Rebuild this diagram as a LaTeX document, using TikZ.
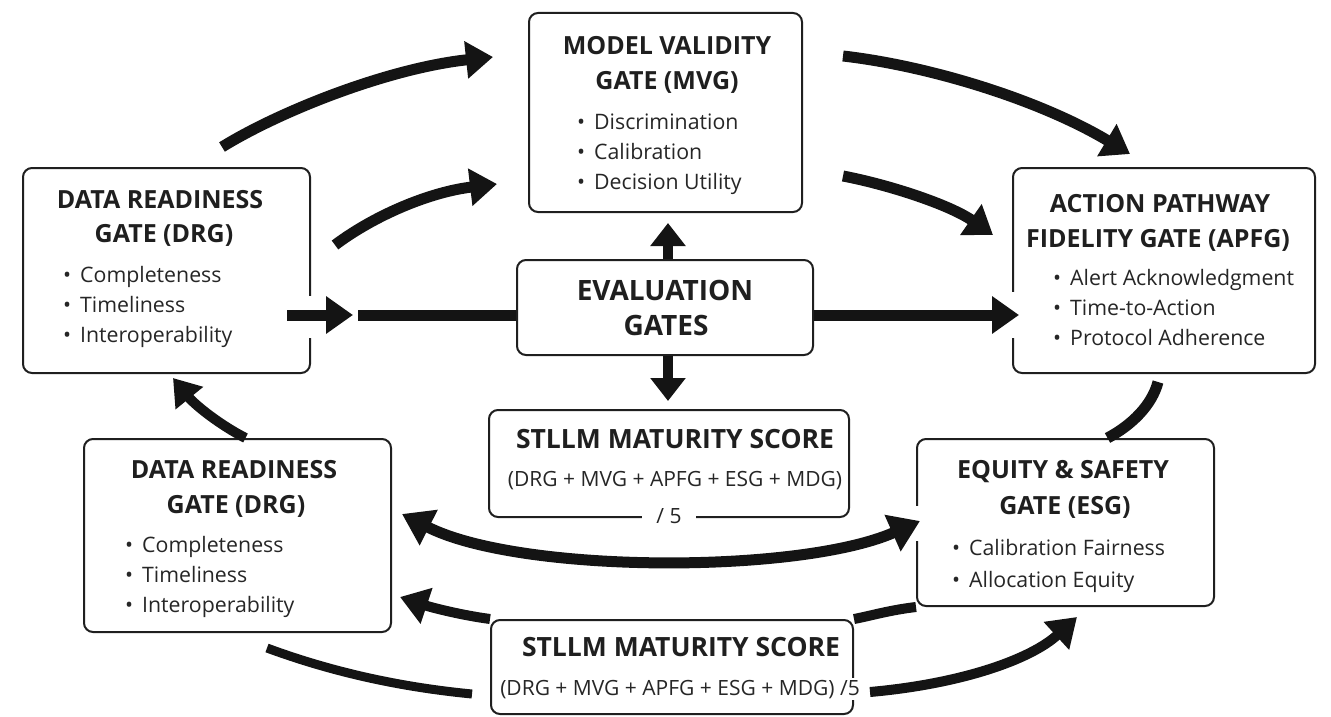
\documentclass[tikz,border=0pt]{standalone}
\usepackage{fontspec}
\setmainfont{Open Sans}
\usetikzlibrary{arrows.meta,calc}

% one bullet line inside a gate box
\newcommand\gbullet[4]{\node[bul] (#1) at (#2,#3) {\makebox[17pt][l]{\textbullet}#4};}

\begin{document}
\begin{tikzpicture}[x=1pt,y=-1pt,
  gate/.style={draw=black!88, line width=2pt, rounded corners=9pt, fill=white, inner sep=0pt},
  ttl/.style={anchor=base, inner sep=0pt, text=black!88, font=\bfseries\fontsize{25}{25}\selectfont},
  big/.style={ttl, font=\bfseries\fontsize{26.5}{26.5}\selectfont},
  bul/.style={anchor=base west, inner sep=0pt, text=black!85, font=\fontsize{21.3}{21.3}\selectfont},
  frm/.style={anchor=base, inner sep=0pt, text=black!85, font=\fontsize{21}{21}\selectfont},
  arr/.style={line width=11pt, black!92, -{Triangle[length=27pt,width=36pt]}},
  bar/.style={line width=11pt, black!92},
]
\useasboundingbox (0,0) rectangle (1331,717);

% ---------- gate boxes ----------
\node[gate, minimum width=273pt, minimum height=199pt] (mvg)  at (665.5,112.5) {};
\node[gate, minimum width=296pt, minimum height=95pt]  (eval) at (665,307.5) {};
\node[gate, minimum width=287pt, minimum height=205pt] (drgA) at (166.5,270.5) {};
\node[gate, minimum width=302pt, minimum height=205pt] (apfg) at (1164,270.5) {};
\node[gate, minimum width=307pt, minimum height=193pt] (drgB) at (237.5,535.5) {};
\node[gate, minimum width=297pt, minimum height=167pt] (esg)  at (1065.5,522.5) {};
\node[gate, minimum width=360pt, minimum height=107pt] (stt)  at (669,463.5) {};
\node[gate, minimum width=362pt, minimum height=94pt]  (stb)  at (672,667) {};

% openings in the borders where connectors pass through
\fill[white] (305,296) rectangle (315,338);
\fill[white] (1008,292) rectangle (1018,338);
\fill[white] (912,506) rectangle (922,541);

% ---------- texts ----------
\node[ttl] (mvgT1) at (667,55) {MODEL VALIDITY};
\node[ttl] (mvgT2) at (667,89) {GATE (MVG)};
\gbullet{mvgB1}{577}{129}{Discrimination}
\gbullet{mvgB2}{577}{159}{Calibration}
\gbullet{mvgB3}{577}{189}{Decision Utility}

\node[ttl, font=\bfseries\fontsize{28}{28}\selectfont] (evalT1) at (665,300) {EVALUATION};
\node[ttl, font=\bfseries\fontsize{28}{28}\selectfont] (evalT2) at (666,335) {GATES};

\node[ttl] (drgAT1) at (160,208) {DATA READINESS};
\node[ttl] (drgAT2) at (164,242) {GATE (DRG)};
\gbullet{drgAB1}{63}{282}{Completeness}
\gbullet{drgAB2}{63}{312}{Timeliness}
\gbullet{drgAB3}{63}{342}{Interoperability}

\node[ttl] (apfgT1) at (1160,212) {ACTION PATHWAY};
\node[ttl] (apfgT2) at (1158,247) {FIDELITY GATE (APFG)};
\gbullet{apfgB1}{1053}{285}{Alert Acknowledgment}
\gbullet{apfgB2}{1053}{315}{Time-to-Action}
\gbullet{apfgB3}{1053}{345}{Protocol Adherence}

\node[ttl] (drgBT1) at (234,478) {DATA READINESS};
\node[ttl] (drgBT2) at (236,513) {GATE (DRG)};
\gbullet{drgBB1}{125}{552}{Completeness}
\gbullet{drgBB2}{125}{582}{Timeliness}
\gbullet{drgBB3}{125}{612}{Interoperability}

\node[ttl] (esgT1) at (1063,478) {EQUITY \& SAFETY};
\node[ttl] (esgT2) at (1065,514) {GATE (ESG)};
\gbullet{esgB1}{952}{555}{Calibration Fairness}
\gbullet{esgB2}{952}{587}{Allocation Equity}

\node[big] (sttT) at (675,448) {STLLM MATURITY SCORE};
\node[frm] (sttF) at (675,486) {(DRG + MVG + APFG + ESG + MDG)};
\node[frm, fill=white, inner xsep=14pt, inner ysep=2pt] (sttD) at (669,523) {/ 5};

\node[big] (stbT) at (681,656) {STLLM MATURITY SCORE};
\node[frm, fill=white, inner xsep=2pt, inner ysep=2pt] (stbF) at (680,695) {(DRG + MVG + APFG + ESG + MDG) /5};

% ---------- connector end points ----------
\coordinate (a1s) at (222,147);  \coordinate (a1e) at (493,57);
\coordinate (a2s) at (335,245);  \coordinate (a2e) at (497,184);
\coordinate (a3s) at (843,56);   \coordinate (a3e) at (1130,154);
\coordinate (a4s) at (843,176);  \coordinate (a4e) at (993,235);
\coordinate (hA)  at (287,315);  \coordinate (hB) at (353,315);
\coordinate (hC)  at (358,315);
\coordinate (lpA) at (402,514);  \coordinate (lpB) at (920,521);
\coordinate (b1s) at (267,648);  \coordinate (b1e) at (472,694);
\coordinate (b2s) at (870,692);  \coordinate (b2e) at (1077,617);
\coordinate (dTip) at (400,597);
\coordinate (vTip) at (173,378);
\coordinate (rA) at (1158,382);

% ---------- connectors ----------
\draw[arr] (a1s) .. controls (282,110) and (390,68) .. (a1e);
\draw[arr] (a2s) .. controls (375,215) and (430,192) .. (a2e);
\draw[arr] (a3s) .. controls (930,66) and (1040,100) .. (a3e);
\draw[arr] (a4s) .. controls (890,185) and (950,205) .. (a4e);

\draw[arr] (hA) -- (hB);
\draw[bar] (hC) -- ($(eval.west)+(0,7.5)$);
\draw[arr] ($(eval.east)+(0,7.5)$) -- ($(apfg.west)+(7,44.5)$);

\draw[arr, line width=10pt, -{Triangle[length=23pt,width=34pt]}] ($(eval.north)+(3,0)$) -- ($(mvg.south)+(2.5,10)$);
\draw[arr, line width=10pt, -{Triangle[length=23pt,width=34pt]}] ($(eval.south)+(3,0)$) -- ($(stt.north)+(-1,-8)$);

\draw[bar, {Triangle[length=30pt,width=38pt]}-{Triangle[length=30pt,width=38pt]}]
  (lpA) .. controls (520,574) and (800,574) .. (lpB);

\draw[bar, line width=10pt] (esg.south west) .. controls (890,610) and (870,616) .. (stb.north east);
\draw[arr, line width=10pt, -{Triangle[length=28pt,width=36pt]}] (stb.north west) .. controls (460,615) and (430,607) .. (dTip);

\draw[bar, line width=9pt] (b1s) .. controls (340,675) and (410,688) .. (b1e);
\draw[arr, line width=10pt, -{Triangle[length=28pt,width=36pt]}] (b2s) .. controls (960,684) and (1030,660) .. (b2e);

\draw[arr, line width=10pt, -{Triangle[length=26pt,width=34pt]}] ($(drgB.north)+(8,0)$) .. controls (220,425) and (195,405) .. (vTip);

\draw[bar, line width=11pt] (rA) .. controls (1152,405) and (1132,425) .. ($(esg.north)+(42,0)$);
\end{tikzpicture}
\end{document}
